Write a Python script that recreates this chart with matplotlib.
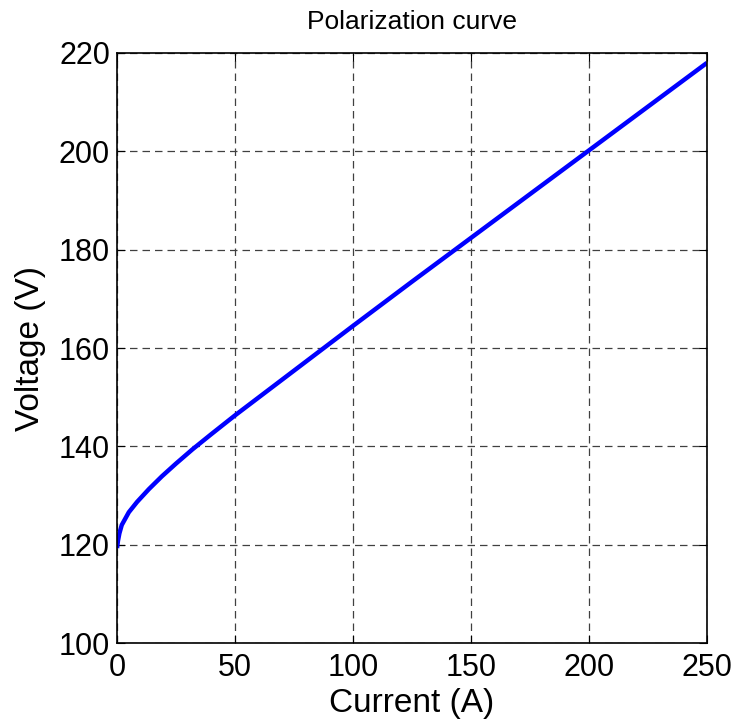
import matplotlib.pyplot as plt

# ------------- Data -------------------------------------
current = [0, 0.4, 1, 2, 5, 8.5, 13.5, 19, 25, 32, 40, 50,
           75, 100, 125, 150, 175, 200, 225, 250]
voltage = [119.3, 120.8, 122.3, 124.0, 126.6, 128.7, 131.3, 133.9, 136.5, 139.4, 142.5, 146.3,
           155.4, 164.5, 173.5, 182.4, 191.3, 200.2, 209.1, 218.0]

x_ticks = [0, 50, 100, 150, 200, 250]
y_ticks = [100, 120, 140, 160, 180, 200, 220]

# ------------- Plot --------------
plt.rcParams['font.family'] = ['Liberation Sans', 'DejaVu Sans']

fig = plt.figure(figsize=(7.37, 7.22), dpi=100)
ax = fig.add_axes([0.1588, 0.1094, 0.8005, 0.8172])

ax.plot(current, voltage, color='#0000ff', linewidth=3.2, solid_capstyle='butt')

ax.set_xlim(0, 250)
ax.set_ylim(100, 220)
ax.set_xticks(x_ticks)
ax.set_yticks(y_ticks)
ax.tick_params(direction='in', top=True, right=True, labelsize=22, length=6)
ax.tick_params(axis='x', pad=7)
ax.tick_params(axis='y', pad=5)
ax.grid(True, linestyle=(0, (6, 4)), color='#404040', linewidth=0.9)

for s in ax.spines.values():
    s.set_linewidth(1.2)

ax.set_xlabel('Current (A)', fontsize=24, labelpad=4)
ax.set_ylabel('Voltage (V)', fontsize=24, labelpad=9)
ax.set_title('Polarization curve', fontsize=19, pad=17)

fig.savefig('out.png', dpi=100)
